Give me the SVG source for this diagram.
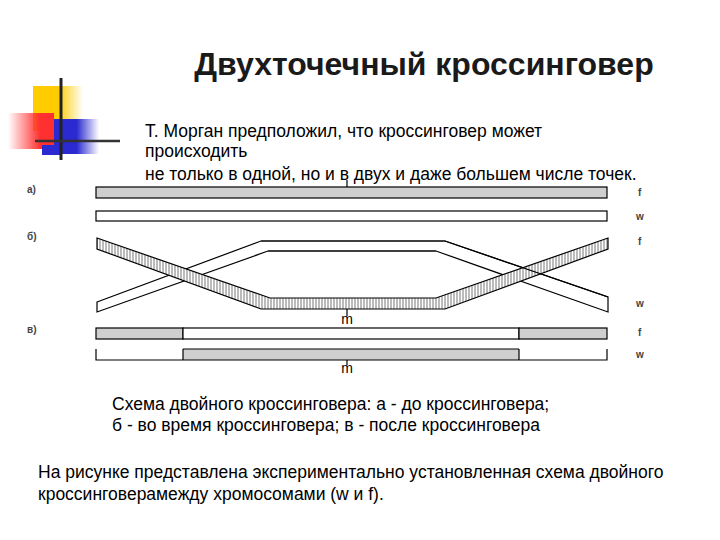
<svg xmlns="http://www.w3.org/2000/svg" width="720" height="540" viewBox="0 0 720 540">
<defs>
<style>
.t{font-family:"Liberation Sans",Arial,sans-serif;fill:#000}
.s{stroke:#000;stroke-width:1.2}
.g{fill:#cfcfcf}
.lab{font-family:"Liberation Sans",Arial,sans-serif;font-size:10px;font-weight:bold;fill:#444}
</style>
<pattern id="h" width="3" height="4" patternUnits="userSpaceOnUse"><rect width="3" height="4" fill="#fff"/><line x1="1" y1="0" x2="1" y2="4" stroke="#777" stroke-width="1"/></pattern>
<linearGradient id="gy" x1="0" x2="1"><stop offset="0.5" stop-color="#ffcc00"/><stop offset="1" stop-color="#ffcc00" stop-opacity="0"/></linearGradient>
<linearGradient id="gr" x1="1" x2="0"><stop offset="0.3" stop-color="#ff3030"/><stop offset="1" stop-color="#ff3030" stop-opacity="0"/></linearGradient>
<linearGradient id="gb" x1="0" x2="1"><stop offset="0.5" stop-color="#2a2ad0"/><stop offset="1" stop-color="#2a2ad0" stop-opacity="0"/></linearGradient>
</defs>
<g id="logo">
<rect x="33" y="86" width="50" height="45" fill="url(#gy)"/>
<rect x="8" y="113" width="46" height="36" fill="url(#gr)"/>
<rect x="54" y="119" width="45" height="35" fill="url(#gb)"/>
<rect x="42" y="145" width="20" height="10" fill="#2a2ad0"/>
<line x1="61" y1="78" x2="61" y2="160" stroke="#222" stroke-width="3"/>
<line x1="35" y1="141" x2="120" y2="141" stroke="#333" stroke-width="2.5"/>
</g>
<text class="t" x="424" y="75" font-size="32" font-weight="bold" text-anchor="middle" style="fill:#1a1a1a">Двухточечный кроссинговер</text>
<g font-size="17.5">
<text x="145" y="137" class="t">Т. Морган предположил, что кроссинговер может</text>
<text x="145" y="157" class="t">происходить</text>
<text x="145" y="180" class="t">не только в одной, но и в двух и даже большем числе точек.</text>
</g>
<g id="row-a">
<text class="lab" x="27" y="193">а)</text>
<line class="s" x1="347" y1="180" x2="347" y2="187"/>
<rect class="s g" x="96" y="187" width="511" height="11"/>
<rect class="s" x="96" y="211" width="511" height="10" fill="#fff"/>
<text class="lab" x="638" y="196">f</text>
<text class="lab" x="636" y="220">w</text>
</g>
<g id="row-b">
<text class="lab" x="27" y="240">б)</text>
<path class="s" fill="#fff" d="M97,302 L261,241 L445,241 L608,297 L608,312 L436,251 L268,251 L97,312 Z"/>
<path class="s" fill="url(#h)" d="M97,238 L270,298 L436,298 L608,238 L608,249 L445,309 L261,309 L97,249 Z"/>
<path class="s" fill="none" d="M261,241 L445,241 L608,297 M436,251 L268,251"/>
<line class="s" x1="347" y1="309" x2="347" y2="316"/>
<text class="t" x="347" y="324" font-size="14" text-anchor="middle">m</text>
<text class="lab" x="638" y="245">f</text>
<text class="lab" x="636" y="307">w</text>
</g>
<g id="row-c">
<text class="lab" x="27" y="333">в)</text>
<rect class="s g" x="96" y="328" width="87" height="11"/>
<rect class="s" x="183" y="328" width="336" height="11" fill="#fff"/>
<rect class="s g" x="519" y="328" width="88" height="11"/>
<rect class="g" x="183" y="349" width="336" height="11"/>
<path class="s" fill="none" d="M96,349 V360 H607 V349 M183,349 V360 M519,349 V360 M183,349 H519"/>
<line class="s" x1="347" y1="360" x2="347" y2="365"/>
<text class="t" x="347" y="373" font-size="14" text-anchor="middle">m</text>
<text class="lab" x="638" y="336">f</text>
<text class="lab" x="636" y="358">w</text>
</g>
<g font-size="17.5">
<text class="t" x="112" y="410">Схема двойного кроссинговера: а - до кроссинговера;</text>
<text class="t" x="112" y="431">б - во время кроссинговера; в - после кроссинговера</text>
<text class="t" x="38" y="478">На рисунке представлена экспериментально установленная схема двойного</text>
<text class="t" x="38" y="500">кроссинговерамежду хромосомами (w и f).</text>
</g>
</svg>
